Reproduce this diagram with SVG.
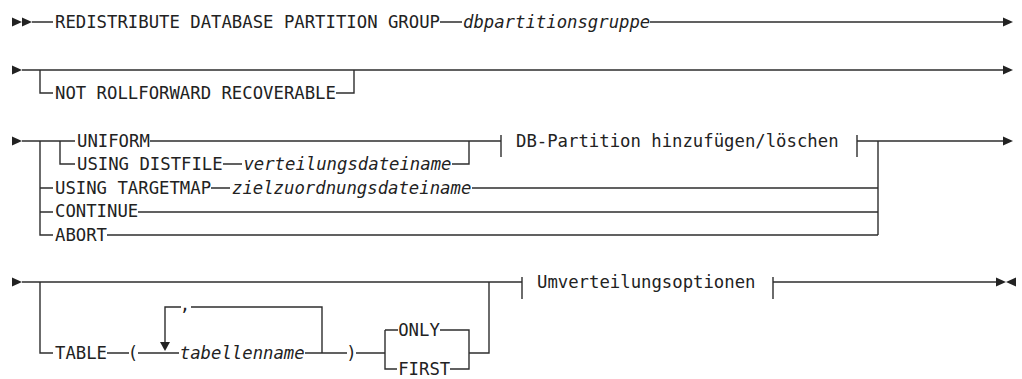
<svg xmlns="http://www.w3.org/2000/svg" xmlns:xlink="http://www.w3.org/1999/xlink" width="1022" height="379" viewBox="0 0 1022 379">
<style>
text{font-family:"DejaVu Sans Mono","Liberation Mono",monospace;font-size:17.3px;fill:#222}
.v{font-style:italic}
.c{fill:none;stroke:#2e2e2e;stroke-width:1.4}
.a{fill:#222}
</style>
<defs>
<path id="ar" d="M0,-4.6 L10,0 L0,4.6 Z"/>
<path id="al" d="M0,-4.6 L-10,0 L0,4.6 Z"/>
<path id="ad" d="M-5,0 L5,0 L0,9 Z"/>
</defs>
<rect width="1022" height="379" fill="#fff"/>
<g id="connectors">
<!-- row 1 -->
<use xlink:href="#ar" href="#ar" x="12" y="22" class="a"/>
<use xlink:href="#ar" href="#ar" x="22" y="22" class="a"/>
<path class="c" d="M32 22H53M440 22H462M650 22H1004"/>
<use xlink:href="#ar" href="#ar" x="1003" y="22" class="a"/>
<!-- row 2 -->
<use xlink:href="#ar" href="#ar" x="12" y="70" class="a"/>
<path class="c" d="M22 70H1004M40 70V93H53M336 93H354V70"/>
<use xlink:href="#ar" href="#ar" x="1003" y="70" class="a"/>
<!-- row 3 -->
<use xlink:href="#ar" href="#ar" x="12" y="141" class="a"/>
<path class="c" d="M22 141H75M150 141H501M60 141V164H75M223 164H242M452 164H469V141M501 135V157"/>
<path class="c" d="M40 141V235H53M40 188H53M40 212H53M211 188H230M472 188H878M138 212H878M107 235H878M878 141V235"/>
<path class="c" d="M857 135V157M857 141H1004"/>
<use xlink:href="#ar" href="#ar" x="1003" y="141" class="a"/>
<!-- row 4 -->
<use xlink:href="#ar" href="#ar" x="12" y="282" class="a"/>
<path class="c" d="M22 282H522M522 277V299M40 282V353H53M107 353H129M138 353H179M305 353H347M356 353H385M469 353H489V282"/>
<path class="c" d="M165 343V307H181M191 307H322V353"/>
<use xlink:href="#ad" href="#ad" x="165" y="342" class="a"/>
<path class="c" d="M385 330V369H397M385 330H398M440 330H469V369H450"/>
<path class="c" d="M773 277V299M773 282H997"/>
<use xlink:href="#ar" href="#ar" x="996" y="282" class="a"/>
<use xlink:href="#al" href="#al" x="1016" y="282" class="a"/>
</g>
<g id="n-redistribute"><text x="55" y="27.5">REDISTRIBUTE DATABASE PARTITION GROUP</text></g>
<g id="n-dbpartitionsgruppe"><text class="v" x="463" y="27.5">dbpartitionsgruppe</text></g>
<g id="n-notrollforward"><text x="55" y="98.5">NOT ROLLFORWARD RECOVERABLE</text></g>
<g id="n-uniform"><text x="77" y="146.5">UNIFORM</text></g>
<g id="n-usingdistfile"><text x="77" y="169.5">USING DISTFILE</text></g>
<g id="n-verteilungsdateiname"><text class="v" x="243.4" y="169.5">verteilungsdateiname</text></g>
<g id="n-dbpartition"><text x="516" y="146.5">DB-Partition hinzufügen/löschen</text></g>
<g id="n-usingtargetmap"><text x="55" y="193.5">USING TARGETMAP</text></g>
<g id="n-zielzuordnungsdateiname"><text class="v" x="232" y="193.5">zielzuordnungsdateiname</text></g>
<g id="n-continue"><text x="55" y="217">CONTINUE</text></g>
<g id="n-abort"><text x="55" y="240.5">ABORT</text></g>
<g id="n-table"><text x="55" y="358.5">TABLE</text></g>
<g id="n-lparen"><text x="127.8" y="358.5">(</text></g>
<g id="n-comma"><text x="179.8" y="311">,</text></g>
<g id="n-tabellenname"><text class="v" x="179.8" y="358.5">tabellenname</text></g>
<g id="n-rparen"><text x="346.2" y="358.5">)</text></g>
<g id="n-only"><text x="398.2" y="335.5">ONLY</text></g>
<g id="n-first"><text x="398.2" y="374.5">FIRST</text></g>
<g id="n-umverteilungsoptionen"><text x="537" y="287.5">Umverteilungsoptionen</text></g>
</svg>
